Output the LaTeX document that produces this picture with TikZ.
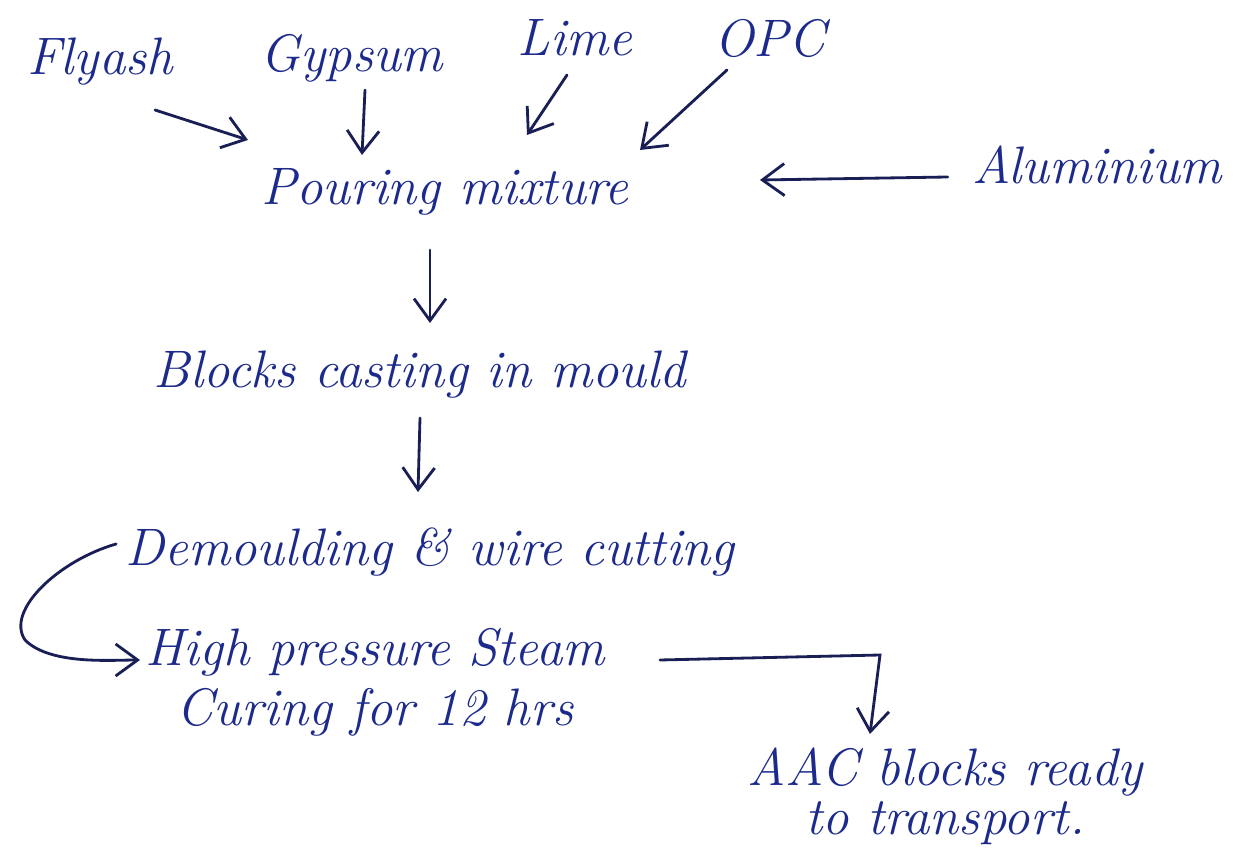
\documentclass[tikz,border=0pt]{standalone}
\usetikzlibrary{arrows.meta}
\definecolor{ink}{RGB}{28,42,140}
\definecolor{inkdark}{RGB}{25,30,85}
\tikzset{
  lbl/.style={text=ink, font=\fontsize{15}{18}\selectfont\itshape, inner sep=1pt, align=center},
  arr/.style={draw=inkdark, line width=0.8pt, -{Straight Barb[length=2.2mm,width=3.2mm]}, line cap=round},
}
\begin{document}
\begin{tikzpicture}[x=0.01cm, y=-0.01cm]
\useasboundingbox (0,0) rectangle (1245,852);
\node[lbl] (flyash) at (100,62) {Flyash};
\node[lbl] (gypsum) at (352,58) {Gypsum};
\node[lbl] (lime) at (575,38) {Lime};
\node[lbl] (opc) at (770,38) {OPC};
\node[lbl] (alu) at (1097,165) {Aluminium};
\node[lbl] (pour) at (445,192) {Pouring mixture};
\node[lbl] (cast) at (420,375) {Blocks casting in mould};
\node[lbl] (demould) at (430,552) {Demoulding \& wire cutting};
\node[lbl] (steam) at (375,682) {High pressure Steam\\[-1pt]Curing for 12 hrs};
\node[lbl] (aac) at (945,796) {AAC blocks ready\\[-4pt]to transport.};
\coordinate (bend) at (880,655);
% inputs
\draw[arr] ([shift={(55,48)}]flyash.center) -- ([shift={(-197,-52)}]pour.center);
\draw[arr] ([shift={(13,32)}]gypsum.center) -- ([shift={(-83,-37)}]pour.center);
\draw[arr] ([shift={(-8,37)}]lime.center) -- ([shift={(82,-57)}]pour.center);
\draw[arr] ([shift={(-43,32)}]opc.center) -- ([shift={(195,-42)}]pour.center);
\draw[arr] (alu.west) ++(-20,12) -- ([shift={(315,-12)}]pour.center);
% main flow
\draw[arr] ([shift={(-15,58)}]pour.center) -- ([shift={(10,-52)}]cast.center);
\draw[arr] ([shift={(0,43)}]cast.center) -- ([shift={(-12,-60)}]demould.center);
\draw[arr] (demould.west) ++(-5,-8) .. controls (60,560) and (5,610) .. (25,640)
  .. controls (50,665) and (110,660) .. (140,660);
\draw[arr] ([shift={(285,-22)}]steam.center) -- (bend) -- ([shift={(-75,-62)}]aac.center);
\end{tikzpicture}
\end{document}
